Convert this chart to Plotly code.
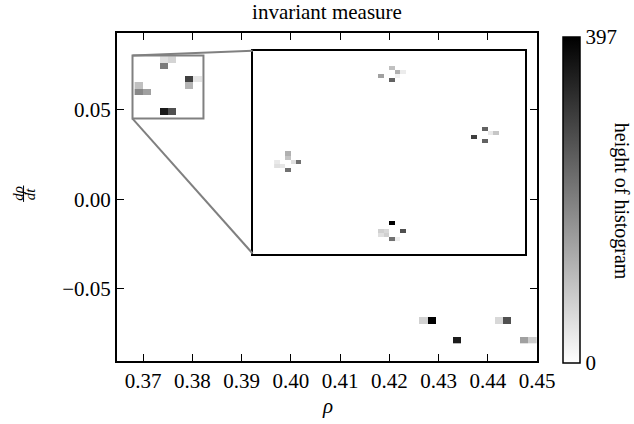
import numpy as np
import plotly.graph_objects as go

# ---- axis limits and ticks -------------------------------------------------
RHO_RANGE = [0.3647, 0.4500]
DRHO_RANGE = [-0.0903, 0.0929]
RHO_TICKS = [0.37, 0.38, 0.39, 0.40, 0.41, 0.42, 0.43, 0.44, 0.45]
DRHO_TICKS = [-0.05, 0.00, 0.05]
CBAR_TICKS = [0, 397]

# ---- coarse 2-D histogram of (rho, drho/dt) ---------------------------------
MAIN_RHO_EDGE0 = 0.368276
MAIN_RHO_WIDTH = 0.0017018
MAIN_NCOLS = 48
MAIN_DRHO_TOP = 0.07988
MAIN_DRHO_HEIGHT = 0.003645
MAIN_NROWS = 44

# non-empty bins (column index along rho, row index down from the top edge)
main_col = [3, 4, 3, 6, 7, 6, 0, 0, 1, 3, 4, 34, 35, 43, 44, 38, 46, 47]
main_row = [0, 0, 1, 3, 3, 4, 4, 5, 5, 8, 8, 40, 40, 40, 40, 43, 43, 43]
main_count = [48, 67, 204, 297, 40, 117, 98, 185, 148, 357, 272,
              72, 397, 60, 272, 353, 148, 79]

# ---- zoomed region and its finer histogram -----------------------------------
ZOOM_RHO = [0.36785, 0.38226]
ZOOM_DRHO = [0.04511, 0.08032]
ZOOM_RHO_EDGE0 = 0.368988
ZOOM_RHO_WIDTH = 0.0002895
ZOOM_NCOLS = 42
ZOOM_DRHO_TOP = 0.07766
ZOOM_DRHO_HEIGHT = 0.0007073
ZOOM_NROWS = 43

zoom_col = [21, 22, 23, 19, 22, 21,
            38, 39, 40, 36, 38,
            2, 2, 0, 3, 4, 0, 1, 2,
            21, 23, 19, 20, 19, 20, 21, 22]
zoom_row = [0, 1, 1, 2, 2, 3,
            15, 16, 16, 17, 18,
            21, 22, 23, 23, 23, 24, 24, 25,
            38, 40, 40, 40, 41, 41, 42, 42]
zoom_count = [20, 25, 6, 30, 4, 50,
              50, 7, 18, 61, 50,
              25, 19, 7, 10, 45, 10, 8, 45,
              81, 56, 15, 12, 10, 15, 45, 5]

# where the zoom panel sits on the page (fractions of the plotting area)
INSET_X = [0.3229, 0.9707]
INSET_Y = [0.3277, 0.9460]

FONT = "Liberation Serif"
FS = 21
GREY = "#808080"
SCALE = [[0.0, "#ffffff"], [1.0, "#000000"]]


def grid(edge0, width, n_cols, top, height, n_rows, cols, rows, counts):
    """Bin centres and a count matrix (None where the bin is empty)."""
    xc = edge0 + (np.arange(n_cols) + 0.5) * width
    yc = top - (np.arange(n_rows) + 0.5) * height
    z = [[None] * n_cols for _ in range(n_rows)]
    for c, r, v in zip(cols, rows, counts):
        z[r][c] = v
    return xc, yc, z


mx, my, mz = grid(MAIN_RHO_EDGE0, MAIN_RHO_WIDTH, MAIN_NCOLS,
                  MAIN_DRHO_TOP, MAIN_DRHO_HEIGHT, MAIN_NROWS,
                  main_col, main_row, main_count)
zx, zy, zz = grid(ZOOM_RHO_EDGE0, ZOOM_RHO_WIDTH, ZOOM_NCOLS,
                  ZOOM_DRHO_TOP, ZOOM_DRHO_HEIGHT, ZOOM_NROWS,
                  zoom_col, zoom_row, zoom_count)

fig = go.Figure()

fig.add_trace(go.Heatmap(
    x=mx, y=my, z=mz, zmin=0, zmax=max(main_count),
    colorscale=SCALE, hoverongaps=False, xaxis="x", yaxis="y",
    colorbar=dict(
        x=1.0626, xanchor="left", xpad=0, y=0.492, yanchor="middle", ypad=0,
        thickness=17, lenmode="pixels", len=326,
        outlinewidth=1.5, outlinecolor="black",
        tickvals=CBAR_TICKS, ticktext=[str(v) for v in CBAR_TICKS],
        ticks="", tickfont=dict(family=FONT, size=FS, color="black"),
    ),
))

fig.add_trace(go.Heatmap(
    x=zx, y=zy, z=zz, zmin=0, zmax=max(zoom_count),
    colorscale=SCALE, showscale=False, hoverongaps=False,
    xaxis="x2", yaxis="y2",
))

axis_common = dict(
    showline=True, linecolor="black", linewidth=2, mirror="allticks",
    ticks="inside", ticklen=7, tickwidth=1.3, tickcolor="black",
    showgrid=False, zeroline=False,
    tickfont=dict(family=FONT, size=FS, color="black"),
)

fig.update_layout(
    width=634, height=424,
    margin=dict(l=117, r=97, t=33, b=63),
    paper_bgcolor="white", plot_bgcolor="white",
    showlegend=False,
    title=dict(text="invariant measure", x=0.5, xref="paper", xanchor="center",
               y=1 - 12 / 424, yref="container", yanchor="middle",
               font=dict(family=FONT, size=FS, color="black")),
    xaxis=dict(range=RHO_RANGE, tickvals=RHO_TICKS, tickformat=".2f",
               **axis_common),
    yaxis=dict(range=DRHO_RANGE, tickvals=DRHO_TICKS, tickformat=".2f",
               **axis_common),
    xaxis2=dict(domain=INSET_X, anchor="y2", range=ZOOM_RHO,
                showline=True, linecolor="black", linewidth=2, mirror=True,
                showticklabels=False, ticks="", showgrid=False, zeroline=False),
    yaxis2=dict(domain=INSET_Y, anchor="x2", range=ZOOM_DRHO,
                showline=True, linecolor="black", linewidth=2, mirror=True,
                showticklabels=False, ticks="", showgrid=False, zeroline=False),
)

# zoom window outline on the main axes
fig.add_shape(type="rect", xref="x", yref="y",
              x0=ZOOM_RHO[0], x1=ZOOM_RHO[1], y0=ZOOM_DRHO[0], y1=ZOOM_DRHO[1],
              line=dict(color=GREY, width=2))


def panel_to_data(fx, fy):
    """Map a fraction of the plotting area onto the main axes' data values."""
    return (RHO_RANGE[0] + fx * (RHO_RANGE[1] - RHO_RANGE[0]),
            DRHO_RANGE[0] + fy * (DRHO_RANGE[1] - DRHO_RANGE[0]))


# connectors from the window's left corners to the panel's left corners
ul = panel_to_data(INSET_X[0], INSET_Y[1])
ll = panel_to_data(INSET_X[0], INSET_Y[0])
fig.add_shape(type="line", xref="x", yref="y",
              x0=ZOOM_RHO[0], y0=ZOOM_DRHO[1], x1=ul[0], y1=ul[1],
              line=dict(color=GREY, width=2))
fig.add_shape(type="line", xref="x", yref="y",
              x0=ZOOM_RHO[0], y0=ZOOM_DRHO[0], x1=ll[0], y1=ll[1],
              line=dict(color=GREY, width=2))

# axis labels
fig.add_annotation(text="<i>ρ</i>", x=0.5, y=-0.137, xref="paper", yref="paper",
                   xanchor="center", yanchor="middle", showarrow=False,
                   font=dict(family=FONT, size=FS, color="black"))
# d rho / d t written as a stacked fraction, turned on its side
fig.add_annotation(text="<i>dρ</i>", x=-0.2355, y=0.51, xref="paper", yref="paper",
                   textangle=-90, xanchor="center", yanchor="middle", showarrow=False,
                   font=dict(family=FONT, size=15, color="black"))
fig.add_annotation(text="<i>dt</i>", x=-0.2080, y=0.51, xref="paper", yref="paper",
                   textangle=-90, xanchor="center", yanchor="middle", showarrow=False,
                   font=dict(family=FONT, size=15, color="black"))
fig.add_shape(type="line", xref="paper", yref="paper",
              x0=-0.2225, x1=-0.2225, y0=0.485, y1=0.535,
              line=dict(color="black", width=1))
fig.add_annotation(text="height of histogram", x=1.2020, y=0.486,
                   xref="paper", yref="paper", textangle=90,
                   xanchor="center", yanchor="middle", showarrow=False,
                   font=dict(family=FONT, size=20, color="black"))

fig.write_html("out.html")
